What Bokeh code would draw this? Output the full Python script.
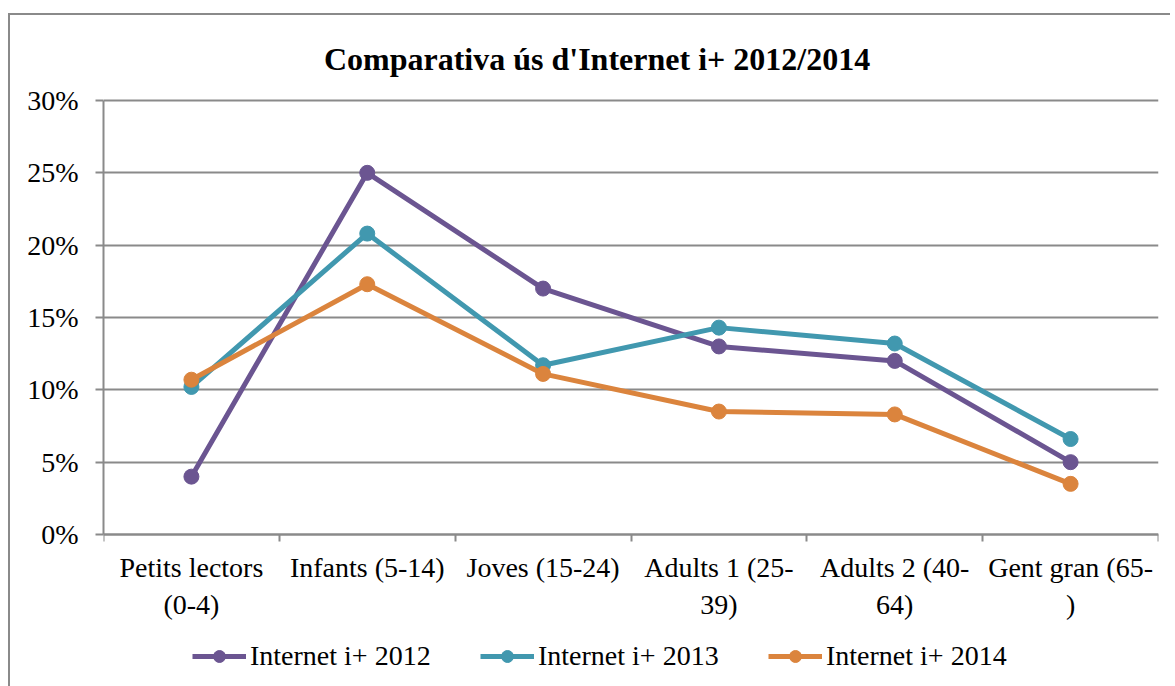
from bokeh.plotting import figure
from bokeh.models import (Range1d, FixedTicker, NumeralTickFormatter, Legend,
                          LegendItem, Label)
from bokeh.embed import file_html
from bokeh.resources import INLINE

# ---- data ----
categories = ["Petits lectors (0-4)", "Infants (5-14)", "Joves (15-24)",
              "Adults 1 (25-39)", "Adults 2 (40-64)", "Gent gran (65-)"]
tick_labels = ["Petits lectors\n(0-4)", "Infants (5-14)", "Joves (15-24)",
               "Adults 1 (25-\n39)", "Adults 2 (40-\n64)", "Gent gran (65-\n)"]
series_names = ["Internet i+ 2012", "Internet i+ 2013", "Internet i+ 2014"]
internet_2012 = [0.040, 0.250, 0.170, 0.130, 0.120, 0.050]
internet_2013 = [0.102, 0.208, 0.117, 0.143, 0.132, 0.066]
internet_2014 = [0.107, 0.173, 0.111, 0.085, 0.083, 0.035]
y_ticks = [0.0, 0.05, 0.10, 0.15, 0.20, 0.25, 0.30]
title_text = "Comparativa ús d'Internet i+ 2012/2014"

colors = ["#6B5591", "#4198AF", "#DB843D"]
FONT = "Liberation Serif"
GRAY = "#8A8A8A"

n = len(categories)
xs = [i + 0.5 for i in range(n)]

# frame covers title, plot and legend; the value axis spans 0..30 %
p = figure(frame_width=1055, frame_height=671, output_backend="svg",
           toolbar_location=None,
           x_range=Range1d(0, n), y_range=Range1d(-0.10507, 0.35876),
           min_border_left=93, min_border_right=12, min_border_top=0,
           min_border_bottom=0)
p.styles = {"border-top": f"2px solid {GRAY}", "border-left": f"2px solid {GRAY}",
            "margin-top": "13px", "margin-left": "8px"}
p.outline_line_color = None

# title
p.add_layout(Label(x=n * 0.4678, y=0.329, text=title_text, text_align="center",
                   text_baseline="alphabetic", text_font=FONT,
                   text_font_size="32px", text_font_style="bold",
                   text_color="black"))

# y axis
p.yaxis.bounds = (0, 0.30)
p.yaxis.ticker = FixedTicker(ticks=y_ticks)
p.yaxis.formatter = NumeralTickFormatter(format="0%")
p.yaxis.axis_line_color = GRAY
p.yaxis.axis_line_width = 2
p.yaxis.major_tick_line_color = GRAY
p.yaxis.major_tick_line_width = 2
p.yaxis.major_tick_out = 8
p.yaxis.major_tick_in = 0
p.yaxis.minor_tick_line_color = None
p.yaxis.major_label_standoff = 17
p.yaxis.major_label_text_font = FONT
p.yaxis.major_label_text_font_size = "28px"
p.yaxis.major_label_text_color = "black"

# x axis, drawn at 0 %
p.xaxis.fixed_location = 0
p.xaxis.ticker = FixedTicker(ticks=xs, minor_ticks=list(range(n + 1)))
p.xaxis.major_label_overrides = {x: lab for x, lab in zip(xs, tick_labels)}
p.xaxis.axis_line_color = GRAY
p.xaxis.axis_line_width = 2
p.xaxis.major_tick_line_color = None
p.xaxis.major_tick_out = 0
p.xaxis.major_tick_in = 0
p.xaxis.minor_tick_line_color = GRAY
p.xaxis.minor_tick_line_width = 2
p.xaxis.minor_tick_out = 7
p.xaxis.minor_tick_in = 0
p.xaxis.major_label_standoff = 10
p.xaxis.major_label_text_font = FONT
p.xaxis.major_label_text_font_size = "28px"
p.xaxis.major_label_text_color = "black"

p.xgrid.grid_line_color = None
p.ygrid.ticker = FixedTicker(ticks=y_ticks)
p.ygrid.grid_line_color = GRAY
p.ygrid.grid_line_width = 2

items = []
for name, vals, c in zip(series_names, [internet_2012, internet_2013, internet_2014], colors):
    l = p.line(xs, vals, line_color=c, line_width=5)
    s = p.scatter(xs, vals, marker="circle", size=15, fill_color=c, line_color=c)
    items.append(LegendItem(label=name, renderers=[l, s]))

legend = Legend(items=items, orientation="horizontal", location=(89, 14),
                padding=0, margin=0, spacing=45, glyph_width=54, glyph_height=30,
                label_standoff=4, label_width=185,
                label_text_font=FONT, label_text_font_size="28px",
                label_text_color="black", border_line_color=None,
                background_fill_alpha=0)
p.add_layout(legend)

open("out.html", "w").write(file_html(p, INLINE))
